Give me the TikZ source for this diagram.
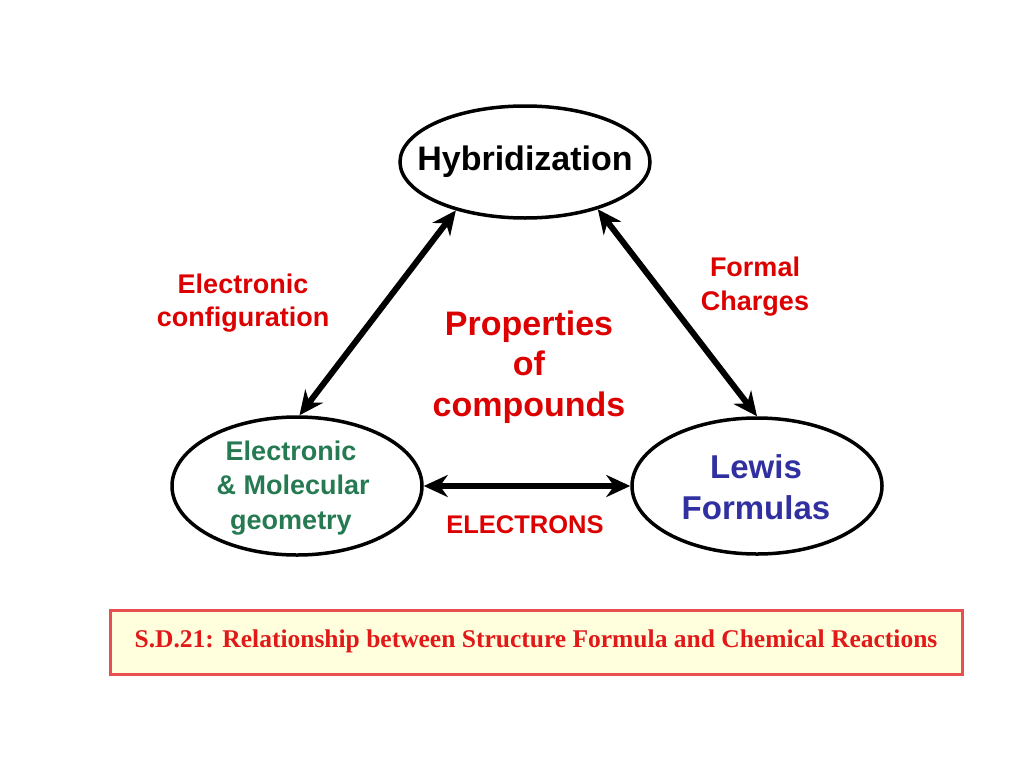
\documentclass[tikz,border=0pt]{standalone}
\usepackage{fontspec}
\setmainfont{Liberation Sans}
\newfontfamily\serifbf{Liberation Serif}
\usetikzlibrary{shapes.geometric,arrows.meta}
\definecolor{txtred}{RGB}{220,0,0}
\definecolor{txtgreen}{RGB}{38,122,82}
\definecolor{txtblue}{RGB}{48,48,160}
\definecolor{boxred}{RGB}{230,80,80}
\definecolor{boxfill}{RGB}{255,255,222}
\definecolor{captred}{RGB}{225,25,25}
\tikzset{
  oval/.style={ellipse, draw=black, line width=3.5pt, inner sep=0pt},
  link/.style={line width=6pt, {Stealth[length=24pt,width=22pt]}-{Stealth[length=24pt,width=22pt]}},
  lbl/.style={align=center, inner sep=0pt, font=\bfseries},
}
\begin{document}
\begin{tikzpicture}[x=1pt,y=-1pt]
\useasboundingbox (0,0) rectangle (1024,768);
\node[oval, minimum width=250pt, minimum height=112pt] (hyb) at (525,162) {};
\node[oval, minimum width=250pt, minimum height=138pt] (geo) at (297,486) {};
\node[oval, minimum width=250pt, minimum height=136pt] (lew) at (757,486) {};
\node[lbl, font=\bfseries\fontsize{34}{41}\selectfont] (hybt) at (525,162) {Hybridization};
\node[lbl, text=txtgreen, font=\bfseries\fontsize{27}{34.5}\selectfont] (geot) at (291,488) {Electronic\\\,\& Molecular\\geometry};
\node[lbl, text=txtblue, font=\bfseries\fontsize{33}{41}\selectfont] (lewt) at (756,487) {Lewis\\Formulas};
\node[lbl, text=txtred, font=\bfseries\fontsize{34}{40.5}\selectfont] (prop) at (529,367) {Properties\\of\\compounds};
\node[lbl, text=txtred, font=\bfseries\fontsize{27}{33}\selectfont] (econf) at (243,303) {Electronic\\configuration};
\node[lbl, text=txtred, font=\bfseries\fontsize{27}{34}\selectfont] (fc) at (755,287) {Formal\\Charges};
\node[lbl, text=txtred, font=\bfseries\fontsize{25.5}{30}\selectfont] (el) at (525,525) {ELECTRONS};
\draw[link] (geo.88) -- (hyb.215);
\draw[link] (hyb.327) -- (lew.90);
\draw[link] (geo.east) -- (lew.west);
\node[draw=boxred, fill=boxfill, line width=3pt, minimum width=852pt, minimum height=64pt, inner sep=0pt] (cap) at (536,642) {};
\node[inner sep=0pt, text=captred, font=\serifbf\bfseries\fontsize{25.5}{29}\selectfont] (capt) at (536,641) {S.D.21: Relationship between Structure Formula and Chemical Reactions};
\end{tikzpicture}
\end{document}
